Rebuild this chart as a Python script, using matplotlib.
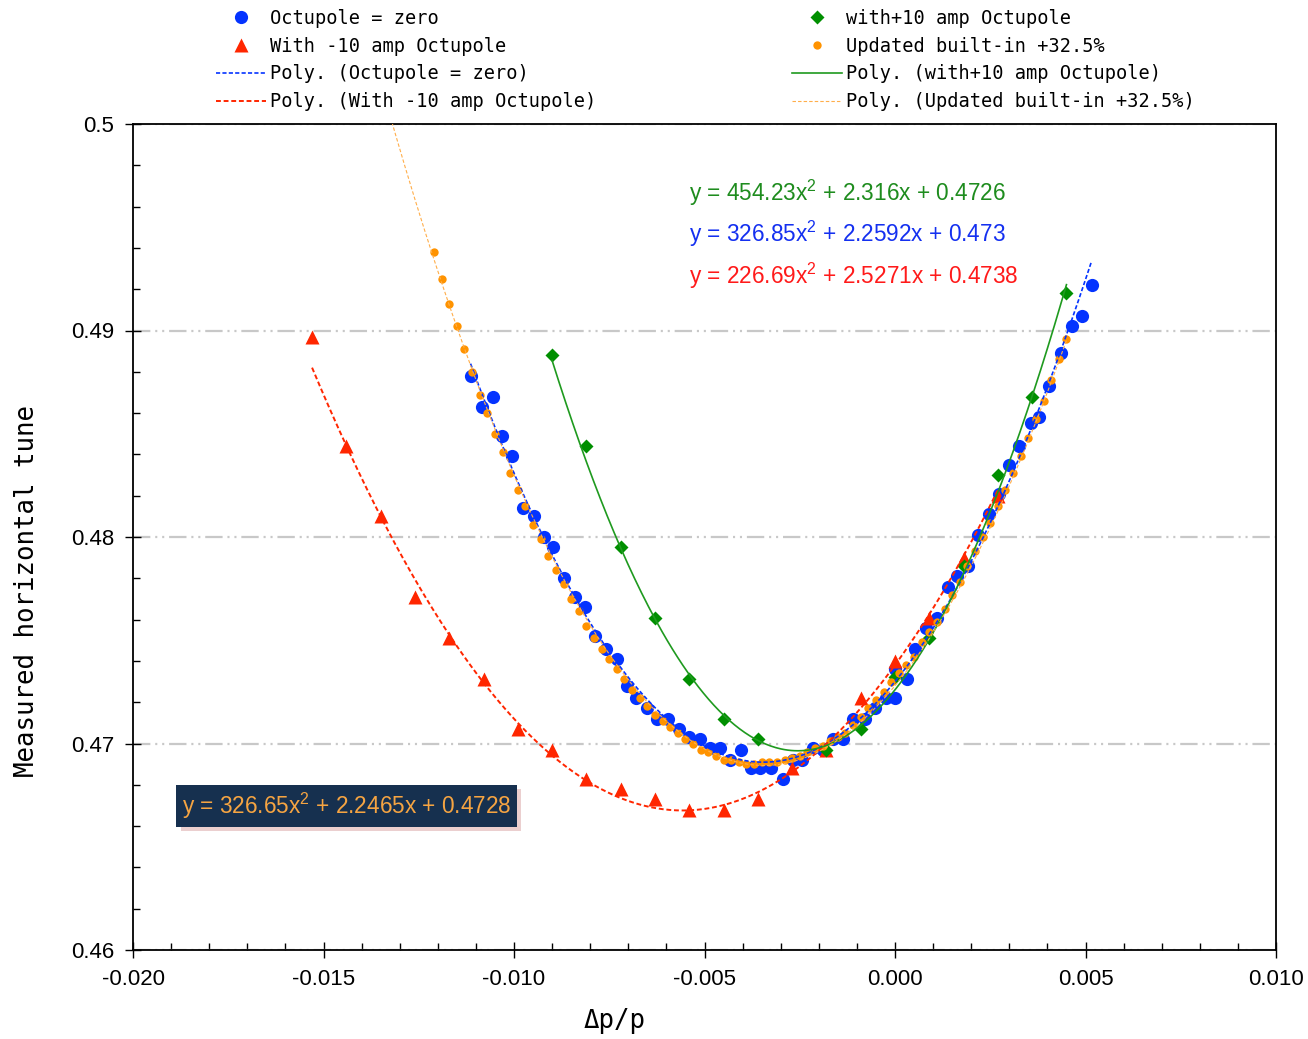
import numpy as np
import matplotlib.pyplot as plt
from matplotlib import patheffects
from matplotlib.ticker import MultipleLocator, FuncFormatter

# measured tune vs momentum offset, four octupole settings
blue_x = [-0.01114, -0.01085, -0.01055, -0.01031, -0.01004, -0.00976, -0.00948, -0.00921,
          -0.00898, -0.00870, -0.00839, -0.00813, -0.00787, -0.00759, -0.00730, -0.00704,
          -0.00681, -0.00652, -0.00624, -0.00595, -0.00567, -0.00541, -0.00512, -0.00486,
          -0.00459, -0.00433, -0.00405, -0.00379, -0.00354, -0.00326, -0.00295, -0.00267,
          -0.00243, -0.00216, -0.00190, -0.00163, -0.00136, -0.00109, -0.00079, -0.00052,
          -0.00024, 0.00000, 0.00000, 0.00031, 0.00052, 0.00081, 0.00109, 0.00138,
          0.00164, 0.00192, 0.00219, 0.00247, 0.00273, 0.00300, 0.00326, 0.00356,
          0.00379, 0.00405, 0.00436, 0.00465, 0.00492, 0.00516]
blue_y = [0.4878, 0.4863, 0.4868, 0.4849, 0.4839, 0.4814, 0.4810, 0.4800,
          0.4795, 0.4780, 0.4771, 0.4766, 0.4752, 0.4746, 0.4741, 0.4728,
          0.4722, 0.4717, 0.4712, 0.4712, 0.4707, 0.4703, 0.4702, 0.4698,
          0.4698, 0.4692, 0.4697, 0.4688, 0.4688, 0.4688, 0.4683, 0.4692,
          0.4692, 0.4698, 0.4697, 0.4702, 0.4702, 0.4712, 0.4712, 0.4717,
          0.4722, 0.4736, 0.4722, 0.4731, 0.4746, 0.4756, 0.4761, 0.4776,
          0.4781, 0.4786, 0.4801, 0.4811, 0.4821, 0.4835, 0.4844, 0.4855,
          0.4858, 0.4873, 0.4889, 0.4902, 0.4907, 0.4922]

red_x = [-0.0153, -0.0144, -0.0135, -0.0126, -0.0117, -0.0108, -0.0099, -0.0090,
         -0.0081, -0.0072, -0.0063, -0.0054, -0.0045, -0.0036, -0.0027, -0.0018,
         -0.0009, 0.0000, 0.0009, 0.0018, 0.0027]
red_y = [0.4897, 0.4844, 0.4810, 0.4771, 0.4751, 0.4731, 0.4707, 0.4697,
         0.4683, 0.4678, 0.4673, 0.4668, 0.4668, 0.4673, 0.4688, 0.4697,
         0.4722, 0.4740, 0.4761, 0.4790, 0.4820]

green_x = [-0.0090, -0.0081, -0.0072, -0.0063, -0.0054, -0.0045, -0.0036, -0.0018,
           -0.0009, 0.0000, 0.0009, 0.0018, 0.0027, 0.0036, 0.0045]
green_y = [0.4888, 0.4844, 0.4795, 0.4761, 0.4731, 0.4712, 0.4702, 0.4697,
           0.4707, 0.4732, 0.4751, 0.4786, 0.4830, 0.4868, 0.4918]

orange_x = [-0.0121, -0.0119, -0.0117, -0.0115, -0.0113, -0.0111, -0.0109, -0.0107,
            -0.0105, -0.0103, -0.0101, -0.0099, -0.0097, -0.0095, -0.0093, -0.0091,
            -0.0089, -0.0087, -0.0085, -0.0083, -0.0081, -0.0079, -0.0077, -0.0075,
            -0.0073, -0.0071, -0.0069, -0.0067, -0.0065, -0.0063, -0.0061, -0.0059,
            -0.0057, -0.0055, -0.0053, -0.0051, -0.0049, -0.0047, -0.0045, -0.0043,
            -0.0041, -0.0039, -0.0037, -0.0035, -0.0033, -0.0031, -0.0029, -0.0027,
            -0.0025, -0.0023, -0.0021, -0.0019, -0.0017, -0.0015, -0.0013, -0.0011,
            -0.0009, -0.0007, -0.0005, -0.0003, -0.0001, 0.0001, 0.0003, 0.0005,
            0.0007, 0.0009, 0.0011, 0.0013, 0.0015, 0.0017, 0.0019, 0.0021,
            0.0023, 0.0025, 0.0027, 0.0029, 0.0031, 0.0033, 0.0035, 0.0037,
            0.0039, 0.0041, 0.0043, 0.0045]
orange_y = [0.4938, 0.4925, 0.4913, 0.4902, 0.4891, 0.4880, 0.4869, 0.4860, 0.4850, 0.4841,
            0.4831, 0.4823, 0.4815, 0.4806, 0.4799, 0.4791, 0.4784, 0.4777, 0.4770, 0.4764,
            0.4757, 0.4751, 0.4746, 0.4741, 0.4736, 0.4731, 0.4726, 0.4722, 0.4718, 0.4714,
            0.4711, 0.4708, 0.4705, 0.4702, 0.4700, 0.4697, 0.4696, 0.4694, 0.4692, 0.4692,
            0.4691, 0.4690, 0.4690, 0.4691, 0.4691, 0.4691, 0.4692, 0.4693, 0.4694, 0.4696,
            0.4698, 0.4699, 0.4701, 0.4703, 0.4705, 0.4709, 0.4713, 0.4717, 0.4721, 0.4725,
            0.4730, 0.4734, 0.4738, 0.4742, 0.4749, 0.4754, 0.4759, 0.4765, 0.4772, 0.4778,
            0.4786, 0.4793, 0.4800, 0.4807, 0.4815, 0.4823, 0.4831, 0.4839, 0.4848, 0.4857,
            0.4866, 0.4876, 0.4886, 0.4896]

# trendline coefficients as printed on the chart (x^2, x, 1)
fit_blue = [326.85, 2.2592, 0.473]
fit_red = [226.69, 2.5271, 0.4738]
fit_green = [454.23, 2.316, 0.4726]
fit_orange = [326.65, 2.2465, 0.4728]

plt.rcParams['lines.scale_dashes'] = False
plt.rcParams['mathtext.fontset'] = 'custom'
plt.rcParams['mathtext.rm'] = 'Liberation Sans'
MONO = 'DejaVu Sans Mono'
SANS = 'Liberation Sans'

fig = plt.figure(figsize=(13.08, 10.39), dpi=100)
ax = fig.add_axes([133/1308, 1-950/1039, 1143/1308, 826/1039])

def curve(c, x0, x1):
    xs = np.linspace(x0, x1, 300)
    return xs, np.polyval(c, xs)

def eq(c):
    return 'y = %gx$^\\mathregular{2}$ + %gx + %g' % tuple(c)

h_blue, = ax.plot(blue_x, blue_y, 'o', ms=9.5, color='#0433FF', mec='none', zorder=3)
h_red, = ax.plot(red_x, red_y, '^', ms=9.5, color='#FF2600', mec='none', zorder=4)
h_green, = ax.plot(green_x, green_y, 'D', ms=7, color='#008F00', mec='none', zorder=5)
h_orange, = ax.plot(orange_x, orange_y, 'o', ms=6, color='#FF9300', mec='none', zorder=6)

xs, ys = curve(fit_blue, min(blue_x), max(blue_x))
l_blue, = ax.plot(xs, ys, color='#0433FF', lw=1.2, dashes=(3, 1.6), zorder=8)
xs, ys = curve(fit_red, min(red_x), max(red_x))
l_red, = ax.plot(xs, ys, color='#FF2600', lw=1.4, dashes=(3.5, 2), zorder=8)
xs, ys = curve(fit_green, min(green_x), max(green_x))
l_green, = ax.plot(xs, ys, color='#1F9A1F', lw=1.2, zorder=8)
xs, ys = curve(fit_orange, min(orange_x) - 0.002, max(orange_x))
l_orange, = ax.plot(xs, ys, color='#FFAE4A', lw=0.8, dashes=(2.5, 1.5), zorder=9)

ax.set_xlim(-0.020, 0.010)
ax.set_ylim(0.46, 0.50)
ax.xaxis.set_major_locator(MultipleLocator(0.005))
ax.xaxis.set_minor_locator(MultipleLocator(0.001))
ax.yaxis.set_major_locator(MultipleLocator(0.01))
ax.yaxis.set_minor_locator(MultipleLocator(0.002))
ax.xaxis.set_major_formatter(FuncFormatter(lambda v, p: '%.3f' % (0 if abs(v) < 1e-9 else v)))
ax.yaxis.set_major_formatter(FuncFormatter(lambda v, p: '%g' % round(v, 3)))
ax.tick_params(which='major', direction='inout', length=11, width=1, labelsize=16, pad=8)
ax.tick_params(which='minor', direction='in', length=5, width=1)
for lab in ax.get_xticklabels() + ax.get_yticklabels():
    lab.set_family(SANS)
for s in ax.spines.values():
    s.set_linewidth(1.3)

ax.set_axisbelow(True)
ax.yaxis.grid(True, color='#C8C8C8', lw=1.6, linestyle=(0, (12.5, 3.5, 1.5, 3.5, 1.5, 3.5)))

fig.text(27/1308, 1-591/1039, 'Measured horizontal tune', rotation=90, family=MONO,
         fontsize=18.5, ha='center', va='center')
fig.text(615/1308, 1-1021/1039, 'Δp/p', family=MONO, fontsize=18.5, ha='center', va='center')

eq_kw = dict(transform=ax.transAxes, fontsize=16.3, family=SANS, va='center', ha='left')
ax.text(0.4864, 0.9165, eq(fit_green), color='#1E8C1E', **eq_kw)
ax.text(0.4864, 0.8668, eq(fit_blue), color='#1430F0', **eq_kw)
ax.text(0.4864, 0.8160, eq(fit_red), color='#FF1A1A', **eq_kw)
box = ax.text(0.0429, 0.1743, eq(fit_orange), color='#F5A442',
              bbox=dict(boxstyle='square,pad=0.25', fc='#16304F', ec='none'), zorder=12, **eq_kw)
box.get_bbox_patch().set_path_effects([
    patheffects.withSimplePatchShadow(offset=(3, -3), shadow_rgbFace='#D9A0A0', alpha=0.5)])

handles = [h_blue, h_red, l_blue, l_red, h_green, h_orange, l_green, l_orange]
labels = ['Octupole = zero', 'With -10 amp Octupole', 'Poly. (Octupole = zero)',
          'Poly. (With -10 amp Octupole)', 'with+10 amp Octupole', 'Updated built-in +32.5%',
          'Poly. (with+10 amp Octupole)', 'Poly. (Updated built-in +32.5%)']
fig.legend(handles, labels, ncol=2, loc='upper left', bbox_to_anchor=(216/1308, 1-9/1039),
           frameon=False, prop={'family': MONO, 'size': 13.4}, handlelength=2.7,
           handletextpad=0.2, columnspacing=10.5, labelspacing=0.47,
           borderpad=0, borderaxespad=0)

fig.savefig('out.png', dpi=100)
